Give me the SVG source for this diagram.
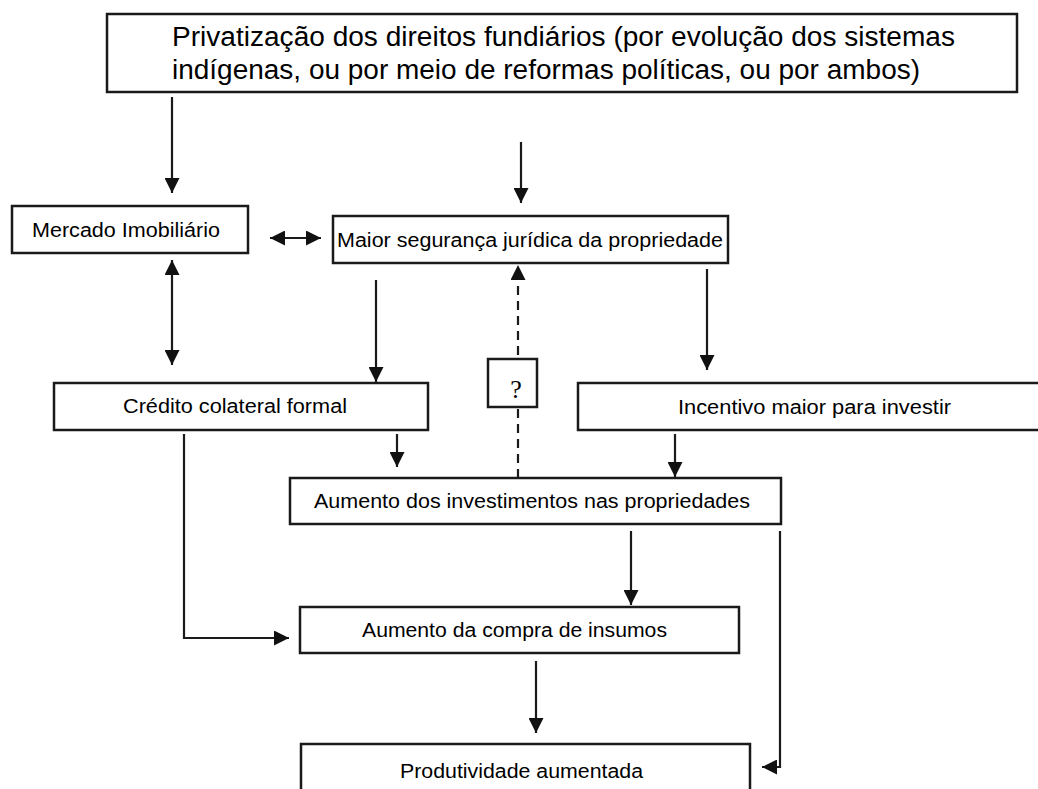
<svg xmlns="http://www.w3.org/2000/svg" width="1038" height="789" viewBox="0 0 1038 789">
<style>
.box{fill:#fff;stroke:#1a1a1a;stroke-width:2.5}
.t{font-family:"Liberation Sans",Arial,sans-serif;font-size:20px;fill:#000}
.big{font-family:"Liberation Sans",Arial,sans-serif;font-size:27px;fill:#000}
.q{font-family:"Liberation Serif","Times New Roman",serif;font-size:26px;fill:#000}
.ln{fill:none;stroke:#1a1a1a;stroke-width:2.2}
.dash{fill:none;stroke:#1a1a1a;stroke-width:2.2;stroke-dasharray:9 6}
</style>
<defs>
<marker id="ah" markerUnits="userSpaceOnUse" markerWidth="15" markerHeight="15" viewBox="0 0 15 15" refX="15" refY="7.5" orient="auto-start-reverse">
<path d="M0,0 L15,7.5 L0,15 z" fill="#111"/>
</marker>
</defs>
<rect width="1038" height="789" fill="#fff"/>

<g id="connectors">
<line class="ln" x1="172" y1="97" x2="172" y2="193" marker-end="url(#ah)"/>
<line class="ln" x1="521" y1="142" x2="521" y2="203" marker-end="url(#ah)"/>
<line class="ln" x1="270" y1="238" x2="321" y2="238" marker-start="url(#ah)" marker-end="url(#ah)"/>
<line class="ln" x1="172" y1="260" x2="172" y2="365" marker-start="url(#ah)" marker-end="url(#ah)"/>
<line class="ln" x1="376" y1="280" x2="376" y2="382" marker-end="url(#ah)"/>
<line class="ln" x1="707" y1="269" x2="707" y2="370" marker-end="url(#ah)"/>
<line class="dash" x1="518" y1="355" x2="518" y2="265" marker-end="url(#ah)"/>
<line class="dash" x1="518" y1="478" x2="518" y2="409"/>
<line class="ln" x1="397" y1="434" x2="397" y2="467" marker-end="url(#ah)"/>
<line class="ln" x1="675" y1="434" x2="675" y2="477" marker-end="url(#ah)"/>
<polyline class="ln" points="184,434 184,638 289,638" marker-end="url(#ah)"/>
<line class="ln" x1="631" y1="531" x2="631" y2="605" marker-end="url(#ah)"/>
<line class="ln" x1="536" y1="661" x2="536" y2="733" marker-end="url(#ah)"/>
<polyline class="ln" points="780,531 780,767 762,767" marker-end="url(#ah)"/>
</g>

<g id="n-privatizacao">
<rect class="box" x="107" y="14" width="910" height="78"/>
<text class="big" x="172" y="46" textLength="783" lengthAdjust="spacingAndGlyphs">Privatização dos direitos fundiários (por evolução dos sistemas</text>
<text class="big" x="172" y="79" textLength="748" lengthAdjust="spacingAndGlyphs">indígenas, ou por meio de reformas políticas, ou por ambos)</text>
</g>

<g id="n-mercado">
<rect class="box" x="12" y="206" width="236" height="47"/>
<text class="t" x="32" y="237" textLength="188" lengthAdjust="spacingAndGlyphs">Mercado Imobiliário</text>
</g>

<g id="n-seguranca">
<rect class="box" x="333" y="216" width="395" height="47"/>
<text class="t" x="337" y="247" textLength="386" lengthAdjust="spacingAndGlyphs">Maior segurança jurídica da propriedade</text>
</g>

<g id="n-interrogacao">
<rect class="box" x="488" y="359" width="49" height="48"/>
<text class="q" x="516" y="398" text-anchor="middle">?</text>
</g>

<g id="n-credito">
<rect class="box" x="54" y="383" width="374" height="47"/>
<text class="t" x="123" y="413" textLength="224" lengthAdjust="spacingAndGlyphs">Crédito colateral formal</text>
</g>

<g id="n-incentivo">
<path class="box" d="M1040,383 H578 V430 H1040"/>
<text class="t" x="678" y="414" textLength="273" lengthAdjust="spacingAndGlyphs">Incentivo maior para investir</text>
</g>

<g id="n-investimentos">
<rect class="box" x="290" y="478" width="491" height="46"/>
<text class="t" x="314" y="508" textLength="436" lengthAdjust="spacingAndGlyphs">Aumento dos investimentos nas propriedades</text>
</g>

<g id="n-insumos">
<rect class="box" x="300" y="607" width="439" height="46"/>
<text class="t" x="362" y="637" textLength="305" lengthAdjust="spacingAndGlyphs">Aumento da compra de insumos</text>
</g>

<g id="n-produtividade">
<path class="box" d="M301,792 V744 H750 V792"/>
<text class="t" x="400" y="778" textLength="243" lengthAdjust="spacingAndGlyphs">Produtividade aumentada</text>
</g>
</svg>
